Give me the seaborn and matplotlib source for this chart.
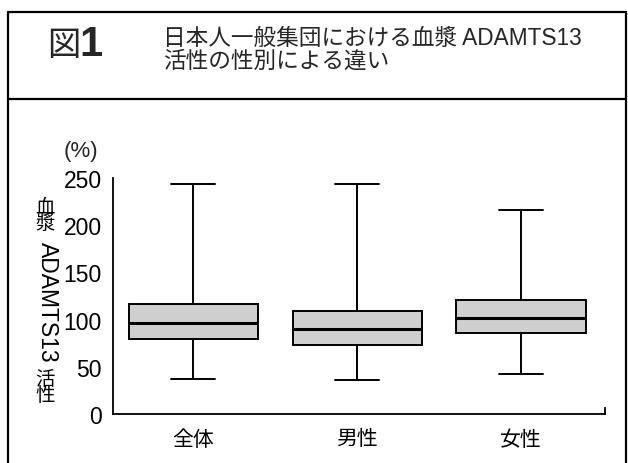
import pandas as pd
import matplotlib.pyplot as plt
import seaborn as sns
from matplotlib.lines import Line2D

# box statistics: [min, Q1, median, Q3, max]
groups = ["全体", "男性", "女性"]
zentai = [37, 79, 96, 116, 243]
dansei = [36, 73, 90, 109, 243]
josei = [42, 86, 102, 121, 216]
yticks = [0, 50, 100, 150, 200, 250]

rows = []
for g, vals in zip(groups, [zentai, dansei, josei]):
    for v in vals:
        rows.append({"group": g, "value": v})
df = pd.DataFrame(rows)

sns.set_style("white")
plt.rcParams['font.family'] = ['Liberation Sans', 'Noto Sans CJK JP']

fig = plt.figure(figsize=(6.28, 4.64), dpi=100)
ax = fig.add_axes([0.180, 0.1056, 0.783, 0.509])

# 5 points per group -> quartiles land exactly on the values, whiskers at min/max
sns.boxplot(data=df, x="group", y="value", order=groups, whis=(0, 100),
            width=0.79, color="#cfcfcf", saturation=1, linecolor="black",
            linewidth=1.4, medianprops=dict(linewidth=2.2), capwidths=0.27,
            ax=ax)

ax.set_ylim(0, 250)
ax.set_xlim(-0.49, 2.51)
ax.set_yticks(yticks)
ax.set_xlabel("")
ax.set_ylabel("")
ax.spines["top"].set_visible(False)
ax.spines["right"].set_bounds(0, 6)
for s in ["left", "bottom", "right"]:
    ax.spines[s].set_color("black")
    ax.spines[s].set_linewidth(1.3)
ax.tick_params(axis="y", direction="in", length=7, width=1.3, pad=8,
               labelsize=16.5, colors="black")
ax.tick_params(axis="x", length=0, pad=11, labelsize=15, colors="black")

# y label, vertical Japanese style: kanji upright, latin rotated
fig.text(81/628, 1 - 152/464, "(%)", ha="center", va="center", fontsize=16)
kanji_kw = dict(ha="center", va="center", fontsize=14, color="black",
                linespacing=0.85)
fig.text(45/628, 1 - 216/464, "血\n漿", **kanji_kw)
fig.text(47/628, 1 - 302/464, "ADAMTS13", rotation=-90, ha="center",
         va="center", fontsize=16.5, color="black")
fig.text(45/628, 1 - 388/464, "活\n性", **kanji_kw)

# header
fig.text(64/628, 1 - 46/464, "図", ha="center", va="center", fontsize=24)
fig.text(91/628, 1 - 45/464, "1", ha="center", va="center", fontsize=30,
         fontweight="bold")
fig.text(163/628, 1 - 38/464, "日本人一般集団における血漿 ADAMTS13",
         ha="left", va="center", fontsize=16.3)
fig.text(163/628, 1 - 61/464, "活性の性別による違い",
         ha="left", va="center", fontsize=16.3)

# frame around the figure and header separator
frame_kw = dict(color="black", linewidth=1.6, transform=fig.transFigure)
fig.add_artist(Line2D([8/628, 8/628], [0, 1 - 13/464], **frame_kw))
fig.add_artist(Line2D([626/628, 626/628], [0, 1 - 13/464], **frame_kw))
fig.add_artist(Line2D([8/628, 626/628], [1 - 13/464, 1 - 13/464], **frame_kw))
fig.add_artist(Line2D([8/628, 626/628], [1 - 100/464, 1 - 100/464], **frame_kw))

fig.savefig("out.png", dpi=100)
